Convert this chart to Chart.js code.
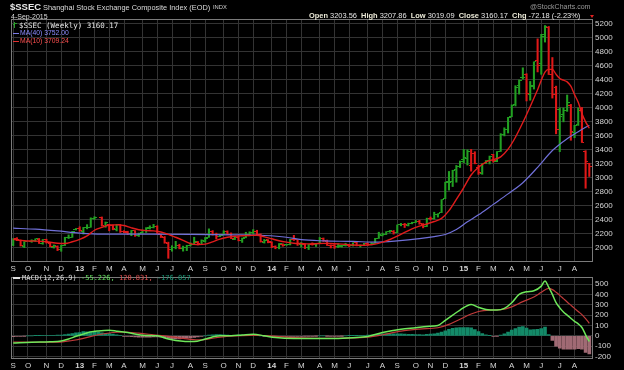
<!DOCTYPE html>
<html><head><meta charset="utf-8">
<script src="https://cdn.jsdelivr.net/npm/chart.js@4.4.1/dist/chart.umd.min.js"></script>
<style>
html,body{margin:0;padding:0;background:#000;width:624px;height:370px;overflow:hidden;}
#wrap{position:relative;width:624px;height:370px;background:#000;font-family:"Liberation Sans",Arial,sans-serif;color:#e0e0e0;}
canvas{position:absolute;left:0;}
.t{position:absolute;white-space:nowrap;line-height:1;}
.mono{font-family:"DejaVu Sans Mono",monospace;}
.b{font-weight:bold;color:#ecead8;}
</style></head><body>
<div id="wrap">
<canvas id="main" width="624" height="276" style="top:0;width:624px;height:276px"></canvas>
<canvas id="macd" width="624" height="100" style="top:270px;width:624px;height:100px"></canvas>

<div class="t" style="left:10px;top:2px;font-size:9.5px;font-weight:bold;color:#e8e8e8">$SSEC</div>
<div class="t" style="left:43px;top:3.6px;font-size:7.4px;color:#dcdcdc">Shanghai Stock Exchange Composite Index (EOD)</div>
<div class="t" style="left:213px;top:4.8px;font-size:5.8px;color:#cfcfcf">INDX</div>
<div class="t" style="left:11px;top:12.5px;font-size:7px;color:#dcdcdc">4-Sep-2015</div>
<div class="t" style="left:530px;top:3px;font-size:7px;color:#9a9a9a">@StockCharts.com</div>
<div class="t" style="left:309px;top:12.4px;font-size:7.45px;color:#e6e6e6"><span class="b">Open</span> 3203.56 &nbsp;<span class="b">High</span> 3207.86 &nbsp;<span class="b">Low</span> 3019.09 &nbsp;<span class="b">Close</span> 3160.17 &nbsp;<span class="b">Chg</span> -72.18 (-2.23%)</div>
<div style="position:absolute;left:589.5px;top:15px;width:0;height:0;border-left:2.5px solid transparent;border-right:2.5px solid transparent;border-top:3.5px solid #e02020"></div>

<div style="position:absolute;left:14px;top:22px;width:1px;height:6px;background:#2aa02a"></div>
<div style="position:absolute;left:12.5px;top:24px;width:1.5px;height:1px;background:#2aa02a"></div>
<div style="position:absolute;left:15px;top:23px;width:1.5px;height:1px;background:#2aa02a"></div>
<div class="t mono" style="left:19px;top:21.5px;font-size:7.5px;color:#e6e6e6">$SSEC (Weekly) 3160.17</div>
<div style="position:absolute;left:13px;top:32.5px;width:6px;height:1.5px;background:#7b7be8"></div>
<div class="t" style="left:20px;top:29.6px;font-size:6.8px;color:#8c8cff">MA(40) 3752.00</div>
<div style="position:absolute;left:13px;top:40.5px;width:6px;height:1.5px;background:#e03030"></div>
<div class="t" style="left:20px;top:37.6px;font-size:6.8px;color:#ff5050">MA(10) 3709.24</div>

<div style="position:absolute;left:13px;top:277px;width:7px;height:2px;background:#e0e0e0"></div>
<div class="t mono" style="left:22px;top:274.5px;font-size:7px;color:#dcdcdc">MACD(12,26,9) <span style="color:#66e060">-55.226,</span> <span style="color:#e05050">120.831,</span> <span style="color:#1a9a78">-176.057</span></div>
</div>
<script>
// ---------- DATA ----------
const monthTickWeeks = [0,4,9,13,18,22,26,30,35,39,43,48,52,57,61,65,70,74,78,83,87,91,96,100,104,109,113,117,122,126,130,135,139,143,148,152];
const monthLabels = ['S','O','N','D','13','F','M','A','M','J','J','A','S','O','N','D','14','F','M','A','M','J','J','A','S','O','N','D','15','F','M','A','M','J','J','A'];
const priceTicks = [2000,2200,2400,2600,2800,3000,3200,3400,3600,3800,4000,4200,4400,4600,4800,5000,5200];
const macdTicks = [-200,-100,0,100,200,300,400,500];

// weekly OHLC, Sep 7 2012 .. Sep 4 2015 (null = no trading that week)
const opens = [
2050,2127,2105,2022,null,2092,2101,2124,2062,2114,
2066,2007,2022,1971,2036,2146,2148,2259,2272,2230,
2290,2294,2425,null,2437,2298,2330,2318,2262,2327,
2234,2227,2197,2242,2174,2211,2246,2284,2283,2299,
2189,2148,2064,1976,2002,2034,1985,2004,2032,2050,
2078,2051,2096,2149,2228,2185,2160,2188,2233,2193,
2123,2144,2105,2142,2195,2218,2237,2195,2081,2112,
2080,2011,1999,2051,2040,2043,2115,2112,2049,2052,
2004,2051,2040,2060,2128,2096,2034,2026,2016,2021,
2034,2038,2027,2070,2026,2039,2061,2051,2063,2135,
2180,2194,2231,2239,2218,2327,2332,2315,2351,2368,
2374,2335,2305,2425,2422,2474,2505,2702,2942,2945,
3116,3160,3258,3270,3173,3351,3148,3063,3206,3247,
3332,3233,3376,3625,3686,3873,4053,4321,4430,4480,
4197,4317,4672,4634,5050,5144,4476,4289,3976,3902,
3960,4039,3649,3757,3963,3373,3203.56];
const highs = [
2130,2144,2111,2087,null,2114,2128,2133,2118,2122,
2077,2040,2027,2036,2150,2183,2234,2276,2300,2291,
2330,2428,2444,null,2440,2368,2335,2323,2333,2334,
2244,2236,2247,2245,2210,2253,2288,2314,2334,2314,
2189,2160,2080,2029,2092,2050,2023,2035,2070,2150,
2090,2113,2147,2270,2245,2209,2178,2243,2242,2212,
2164,2166,2139,2221,2228,2260,2250,2198,2119,2116,
2085,2027,2060,2057,2047,2120,2177,2115,2075,2053,
2047,2070,2061,2147,2140,2110,2041,2045,2057,2034,
2064,2045,2071,2085,2040,2063,2070,2073,2134,2222,
2210,2230,2248,2246,2326,2348,2348,2352,2365,2391,
2391,2346,2423,2440,2508,2487,2688,2938,3091,3108,
3177,3240,3406,3400,3406,3373,3179,3205,3247,3311,
3336,3375,3632,3715,3865,4043,4317,4400,4573,4489,
4378,4658,4987,5052,5178,5164,4720,4311,4000,4000,
4184,4050,3750,4000,4006,3388,3207.86];
const lows = [
2029,2101,2024,2001,null,2077,2090,2061,2050,2066,
2013,1995,1959,1949,2031,2132,2148,2254,2235,2195,
2270,2293,2405,null,2309,2292,2242,2256,2240,2218,
2215,2188,2172,2163,2161,2206,2219,2267,2283,2201,
2146,2064,1849,1950,1984,1984,1951,1959,2025,2045,
2040,2048,2080,2149,2181,2125,2158,2185,2187,2130,
2116,2098,2076,2142,2171,2199,2180,2080,2066,2070,
2001,1985,1984,2021,2032,2040,2104,2033,2009,1988,
1974,2037,2018,2059,2090,2032,1997,1991,2002,2009,
2024,2015,2024,2026,2010,2035,2035,2041,2062,2133,
2168,2188,2220,2195,2216,2313,2289,2311,2342,2360,
2336,2284,2303,2397,2410,2438,2502,2702,2824,2875,
2937,3146,3214,3182,3095,3200,3049,3050,3203,3198,
3224,3230,3376,3599,3641,3873,4027,4197,4412,4099,
4109,4269,4514,4480,4941,4477,4140,3629,3374,3800,
3950,3537,3573,3749,3505,2851,3019.09];
const closes = [
2128,2114,2027,2086,null,2104,2128,2066,2117,2069,
2015,2027,1980,2033,2150,2153,2233,2276,2243,2284,
2291,2419,2432,null,2314,2359,2318,2278,2328,2236,
2225,2206,2244,2177,2205,2246,2282,2288,2300,2210,
2162,2073,1979,2007,2039,1992,2010,2029,2052,2085,
2057,2098,2139,2236,2191,2160,2175,2228,2193,2133,
2149,2106,2135,2196,2220,2237,2196,2085,2101,2083,
2013,2004,2054,2033,2044,2115,2113,2056,2057,2004,
2047,2046,2058,2130,2097,2036,2026,2011,2026,2034,
2039,2029,2070,2026,2036,2059,2047,2059,2127,2185,
2194,2226,2240,2217,2326,2331,2329,2347,2364,2374,
2341,2302,2420,2418,2478,2487,2683,2938,2938,3108,
3157,3234,3285,3376,3351,3210,3076,3203,3247,3310,
3241,3372,3617,3691,3864,4034,4287,4393,4441,4205,
4308,4657,4611,5023,5166,4478,4192,3686,3877,3957,
4070,3664,3744,3965,3507,3232,3160.17];

// moving averages (at selected weeks)
const ma40Weeks = [0,6,12,18,24,36,48,60,68,74,78,84,92,98,104,110,114,117,120,123,126,130,134,138,142,146,150,153,156];
const ma40 = [2280,2265,2240,2210,2195,2195,2192,2185,2175,2150,2115,2098,2090,2080,2098,2130,2160,2190,2260,2370,2470,2620,2770,2930,3150,3390,3560,3660,3752];
const ma10Weeks = [0,3,6,9,12,14,16,18,20,22,24,26,28,30,32,34,36,38,40,42,44,46,48,50,52,54,56,58,60,62,64,66,68,70,72,74,76,78,80,82,84,86,88,90,92,94,96,98,100,102,104,106,108,110,112,114,116,118,120,122,124,126,128,130,132,134,136,138,140,142,144,145,146,147,148,149,150,151,152,153,154,155,156];
const ma10 = [2120,2100,2095,2085,2065,2060,2085,2120,2170,2250,2290,2325,2327,2318,2285,2258,2245,2241,2225,2192,2150,2106,2058,2045,2051,2085,2122,2150,2165,2171,2176,2179,2156,2128,2100,2080,2065,2060,2055,2058,2062,2060,2055,2048,2040,2036,2040,2052,2080,2118,2165,2220,2270,2310,2340,2375,2420,2530,2690,2860,3040,3150,3225,3260,3300,3410,3580,3790,4020,4260,4510,4550,4550,4480,4420,4396,4372,4310,4190,4080,3920,3800,3709];

// MACD(12,26,9)
const macdWeeks = [0,5,10,13,15,17,19,21,23,26,28,31,35,39,42,46,49,52,56,59,62,65,68,71,76,83,87,92,96,100,105,109,112,115,117,119,121,124,126,128,131,133,135,137,139,141,143,144,145,146,147,148,149,150,151,152,153,154,155,156];
const macdLine = [-70,-62,-58,-50,-31,-5,16,38,47,53,45,31,6,0,-31,-53,-56,-31,0,0,8,16,0,-16,-25,-25,-25,-18,-6,31,63,78,90,100,150,200,249,302,275,255,249,265,320,400,425,435,480,530,470,400,320,270,230,200,170,140,115,80,10,-55];
const signalWeeks = [0,6,12,16,19,23,27,30,34,38,42,46,50,53,56,60,64,68,72,76,83,90,96,100,105,110,115,118,121,124,126,129,132,135,138,141,143,145,146,147,148,149,150,151,152,153,154,155,156];
const signalLine = [-60,-62,-62,-45,-25,10,32,37,25,10,-5,-25,-40,-30,-12,0,5,3,-8,-18,-25,-22,-12,10,45,65,78,110,160,210,235,248,252,280,330,375,420,458,446,421,391,359,327,296,265,235,204,165,121];
const histogram = [
-8,-6,-4,-2,0,0,1,2,3,3,
3,4,6,8,12,16,22,28,30,40,
38,40,36,35,28,24,22,16,10,4,
-4,-6,-8,-10,-14,-14,-12,-12,-10,-10,
-14,-20,-26,-28,-30,-30,-28,-24,-20,-16,
-10,-4,0,6,10,12,12,10,8,4,
4,6,6,8,10,10,6,0,-4,-6,
-8,-8,-8,-7,-6,-4,-4,-4,-4,-3,
-2,-2,-1,0,0,-1,-2,-2,-2,-1,
0,1,2,2,3,4,6,8,12,16,
20,20,20,18,18,18,16,14,14,13,
12,10,14,16,20,26,36,48,62,72,
78,80,80,80,76,60,40,22,10,2,
-4,-2,8,20,36,55,70,85,90,75,
58,60,62,70,85,12,-45,-100,-120,-130,
-130,-130,-128,-125,-130,-160,-176];

// ---------- STYLE ----------
const FONT = "'Liberation Sans', Arial, sans-serif";
const UP = '#22a022', DOWN = '#e01818';
const GRID = '#333333', FRAME = '#7a7a7a', TXT = '#d4d4d4';
Chart.defaults.font.family = FONT;

function isUp(i){
  let p = i - 1;
  while (p >= 0 && closes[p] == null) p--;
  return p < 0 ? closes[i] >= opens[i] : closes[i] >= closes[p];
}
function tickImg(color, left){
  const c = document.createElement('canvas');
  c.width = 5; c.height = 1;
  const g = c.getContext('2d');
  g.fillStyle = color;
  g.fillRect(left ? 0 : 3, 0, 2, 1);
  return c;
}
const openUp = tickImg(UP, true), openDn = tickImg(DOWN, true);
const closeUp = tickImg(UP, false), closeDn = tickImg(DOWN, false);

const framePlugin = {
  id: 'frame',
  afterDraw(chart){
    const {ctx, chartArea:a} = chart;
    ctx.save();
    ctx.strokeStyle = FRAME; ctx.lineWidth = 1;
    ctx.strokeRect(Math.round(a.left)+0.5, Math.round(a.top)+0.5, Math.round(a.right-a.left)-1, Math.round(a.bottom-a.top)-1);
    ctx.restore();
  }
};

function xScale(){
  return {
    type: 'linear', min: -0.6, max: 157, offset: false,
    afterBuildTicks: s => { s.ticks = monthTickWeeks.map(v => ({value: v})); },
    afterFit: s => { s.height = s.chart.canvas.id === 'main' ? 14 : 11; },
    ticks: {
      autoSkip: false, maxRotation: 0, minRotation: 0, padding: 2, color: TXT,
      font: ctx => ({family: FONT, size: 8, weight: (monthLabels[ctx.index] || '').length === 2 ? 'bold' : 'normal'}),
      callback: (v, i) => monthLabels[i]
    },
    grid: {color: GRID, drawTicks: false, offset: false, lineWidth: 1},
    border: {display: false}
  };
}
function yScale(min, max, ticks){
  return {
    type: 'linear', position: 'right', min, max,
    afterBuildTicks: s => { s.ticks = ticks.map(v => ({value: v})); },
    afterFit: s => { s.width = 31; },
    ticks: {autoSkip: false, padding: 2, color: TXT, font: {family: FONT, size: 8}, callback: v => String(v)},
    grid: {color: GRID, drawTicks: false, lineWidth: 1},
    border: {display: false}
  };
}
const common = {
  responsive: false, animation: false, devicePixelRatio: 1,
  plugins: {legend: {display: false}, tooltip: {enabled: false}},
  events: []
};

const valid = closes.map((c, i) => i).filter(i => closes[i] != null);

new Chart(document.getElementById('main'), {
  type: 'bar',
  data: {
    datasets: [
      {type: 'line', order: 0, data: ma10Weeks.map((w, k) => ({x: w, y: ma10[k]})),
       borderColor: '#e01c1c', borderWidth: 1.4, pointRadius: 0, cubicInterpolationMode: 'monotone'},
      {type: 'line', order: 1, data: ma40Weeks.map((w, k) => ({x: w, y: ma40[k]})),
       borderColor: '#7070d8', borderWidth: 1.2, pointRadius: 0, cubicInterpolationMode: 'monotone'},
      {type: 'line', order: 2, showLine: false, data: valid.map(i => ({x: i, y: opens[i]})),
       pointRadius: 1, pointStyle: ctx => isUp(ctx.raw.x) ? openUp : openDn},
      {type: 'line', order: 3, showLine: false, data: valid.map(i => ({x: i, y: closes[i]})),
       pointRadius: 1, pointStyle: ctx => isUp(ctx.raw.x) ? closeUp : closeDn},
      {type: 'bar', order: 4, data: valid.map(i => ({x: i, y: [lows[i], highs[i]]})),
       barThickness: 1.4, backgroundColor: ctx => isUp(ctx.raw.x) ? UP : DOWN, borderWidth: 0}
    ]
  },
  options: Object.assign({}, common, {
    layout: {padding: {left: 11, top: 19, right: 0, bottom: 0}},
    scales: {x: xScale(), y: yScale(1796, 5271, priceTicks)}
  }),
  plugins: [framePlugin]
});

new Chart(document.getElementById('macd'), {
  type: 'bar',
  data: {
    datasets: [
      {type: 'line', order: 0, data: macdWeeks.map((w, k) => ({x: w, y: macdLine[k]})),
       borderColor: '#6ee85a', borderWidth: 1.5, pointRadius: 0, cubicInterpolationMode: 'monotone'},
      {type: 'line', order: 1, data: signalWeeks.map((w, k) => ({x: w, y: signalLine[k]})),
       borderColor: '#c03a3a', borderWidth: 1.2, pointRadius: 0, cubicInterpolationMode: 'monotone'},
      {type: 'bar', order: 2, data: histogram.map((h, i) => ({x: i, y: h})),
       barThickness: 3, backgroundColor: ctx => ctx.raw.y >= 0 ? '#138a68' : '#a06a74', borderWidth: 0}
    ]
  },
  options: Object.assign({}, common, {
    layout: {padding: {left: 11, top: 4, right: 0, bottom: 0}},
    scales: {x: xScale(), y: yScale(-224, 570, macdTicks)}
  }),
  plugins: [framePlugin]
});
</script>
</body></html>
